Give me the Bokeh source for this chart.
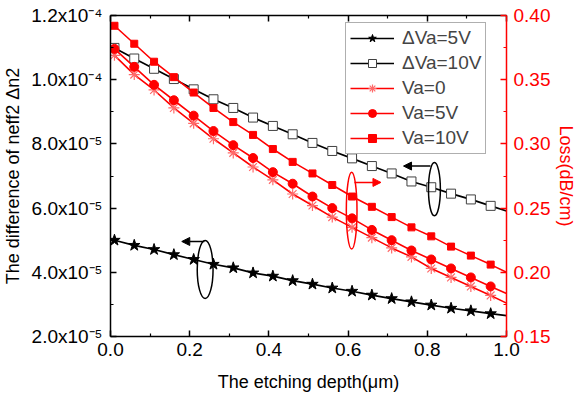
from bokeh.plotting import figure
from bokeh.models import (LinearAxis, Range1d, FixedTicker, CustomJSTickFormatter,
                          Legend, LegendItem, Arrow, NormalHead)
from bokeh.embed import file_html
from bokeh.resources import INLINE

# ---------------- data ----------------
depth = [0.01, 0.06, 0.11, 0.16, 0.21, 0.26, 0.31, 0.36, 0.41, 0.46, 0.51,
         0.56, 0.61, 0.66, 0.71, 0.76, 0.81, 0.86, 0.91, 0.96, 1.00]
dva5 = [5.00e-5, 4.84e-5, 4.71e-5, 4.55e-5, 4.40e-5, 4.25e-5, 4.14e-5, 3.98e-5,
        3.88e-5, 3.74e-5, 3.63e-5, 3.51e-5, 3.41e-5, 3.29e-5, 3.18e-5, 3.08e-5,
        2.98e-5, 2.88e-5, 2.80e-5, 2.71e-5, 2.65e-5]
dva10 = [1.099e-4, 1.066e-4, 1.034e-4, 1.002e-4, 9.70e-5, 9.39e-5, 9.12e-5, 8.82e-5,
         8.56e-5, 8.30e-5, 8.03e-5, 7.78e-5, 7.55e-5, 7.31e-5, 7.08e-5, 6.83e-5,
         6.65e-5, 6.45e-5, 6.27e-5, 6.07e-5, 5.91e-5]
loss_va0 = [0.369, 0.354, 0.342, 0.328, 0.316, 0.304, 0.293, 0.282, 0.272, 0.261, 0.252,
            0.243, 0.235, 0.227, 0.219, 0.212, 0.203, 0.196, 0.189, 0.182, 0.176]
loss_va5 = [0.374, 0.360, 0.346, 0.334, 0.322, 0.310, 0.299, 0.289, 0.278, 0.269, 0.259,
            0.250, 0.242, 0.233, 0.225, 0.217, 0.210, 0.203, 0.196, 0.189, 0.1835]
loss_va10 = [0.392, 0.378, 0.364, 0.352, 0.340, 0.328, 0.317, 0.307, 0.296, 0.286, 0.277,
             0.268, 0.259, 0.251, 0.243, 0.235, 0.228, 0.220, 0.213, 0.206, 0.200]
n_markers = 20  # markers drawn on the first 20 samples

series_labels = ["\u0394Va=5V", "\u0394Va=10V", "Va=0", "Va=5V", "Va=10V"]

x_ticks = [0.0, 0.2, 0.4, 0.6, 0.8, 1.0]
x_minor = [0.1, 0.3, 0.5, 0.7, 0.9]
left_ticks = [2e-5, 4e-5, 6e-5, 8e-5, 1e-4, 1.2e-4]
left_tick_labels = ["2.0x10\u207b\u2075", "4.0x10\u207b\u2075", "6.0x10\u207b\u2075",
                    "8.0x10\u207b\u2075", "1.0x10\u207b\u2074", "1.2x10\u207b\u2074"]
left_minor = [3e-5, 5e-5, 7e-5, 9e-5, 1.1e-4]
right_ticks = [0.15, 0.20, 0.25, 0.30, 0.35, 0.40]
right_minor = [0.175, 0.225, 0.275, 0.325, 0.375]

# annotation shapes (x, y centre, width, height)
ell_black = dict(x=[0.239, 0.818], y=[4.09e-5, 6.59e-5], w=[0.040, 0.030], h=[1.81e-5, 1.66e-5])
ell_red = dict(x=[0.609], y=[0.248], w=[0.027], h=[0.0597])

FONT = "Liberation Sans"
FS = "19px"
RED = "#ff0000"

p = figure(frame_width=396, frame_height=321,
           x_range=Range1d(0, 1), y_range=Range1d(2e-5, 1.2e-4),
           output_backend="svg", toolbar_location=None,
           min_border_left=103, min_border_right=60, min_border_top=15, min_border_bottom=50,
           background_fill_color="white", border_fill_color="white")
p.extra_y_ranges = {"loss": Range1d(0.15, 0.40)}
p.xgrid.visible = False
p.ygrid.visible = False
p.outline_line_color = None


def style_axis(ax, color="black"):
    ax.axis_line_color = color
    ax.axis_line_width = 1.5
    ax.major_tick_line_color = color
    ax.minor_tick_line_color = color
    ax.major_tick_line_width = 1.5
    ax.minor_tick_line_width = 1.2
    ax.major_tick_in = 6
    ax.major_tick_out = 0
    ax.minor_tick_in = 3
    ax.minor_tick_out = 0
    ax.major_label_text_font = FONT
    ax.major_label_text_font_size = FS
    ax.major_label_text_color = color
    ax.axis_label_text_font = FONT
    ax.axis_label_text_font_size = "18px"
    ax.axis_label_text_font_style = "normal"
    ax.axis_label_text_color = color


# bottom axis
xa = p.xaxis[0]
xa.ticker = FixedTicker(ticks=x_ticks, minor_ticks=x_minor)
xa.formatter = CustomJSTickFormatter(code="return tick.toFixed(1);")
xa.axis_label = "The etching depth(\u03bcm)"
style_axis(xa)
xa.major_label_standoff = 6
xa.axis_label_standoff = 13

# left axis
ya = p.yaxis[0]
ya.ticker = FixedTicker(ticks=left_ticks, minor_ticks=left_minor)
ya.formatter = CustomJSTickFormatter(
    args=dict(tvals=left_ticks, tlabels=left_tick_labels),
    code="for (let i = 0; i < tvals.length; i++) { if (Math.abs(tvals[i] - tick) < 1e-12) return tlabels[i]; } return '';")
ya.axis_label = "The difference of neff2 \u0394n2"
style_axis(ya)
ya.major_label_standoff = 8
ya.axis_label_standoff = 5

# top axis (ticks only)
top = LinearAxis(ticker=FixedTicker(ticks=x_ticks, minor_ticks=x_minor),
                 formatter=CustomJSTickFormatter(code="return '';"))
style_axis(top)
top.major_label_standoff = 0
p.add_layout(top, "above")

# right axis (loss)
ra = LinearAxis(y_range_name="loss", ticker=FixedTicker(ticks=right_ticks, minor_ticks=right_minor),
                formatter=CustomJSTickFormatter(code="return tick.toFixed(2);"),
                axis_label="Loss(dB/cm)")
style_axis(ra, RED)
ra.major_label_standoff = 7
ra.axis_label_standoff = 3
p.add_layout(ra, "right")

xm = depth[:n_markers]

# black series (left axis)
l1 = p.line(depth, dva5, line_color="black", line_width=1.7)
s1 = p.scatter(xm, dva5[:n_markers], marker="star", size=12, fill_color="black", line_color="black")
l2 = p.line(depth, dva10, line_color="black", line_width=1.7)
s2 = p.scatter(xm, dva10[:n_markers], marker="square", size=9, fill_color="white", line_color="#404040", line_width=1)

# red series (right axis)
l3 = p.line(depth, loss_va0, line_color=RED, line_width=1.6, y_range_name="loss")
s3 = p.scatter(xm, loss_va0[:n_markers], marker="asterisk", size=11, line_color="#ff6a6a", line_width=1.2, y_range_name="loss")
l4 = p.line(depth, loss_va5, line_color=RED, line_width=1.6, y_range_name="loss")
s4 = p.scatter(xm, loss_va5[:n_markers], marker="circle", size=9, fill_color=RED, line_color=RED, y_range_name="loss")
l5 = p.line(depth, loss_va10, line_color=RED, line_width=1.6, y_range_name="loss")
s5 = p.scatter(xm, loss_va10[:n_markers], marker="square", size=7, fill_color=RED, line_color=RED, y_range_name="loss")

# ellipses and arrows
p.ellipse(x=ell_black["x"], y=ell_black["y"], width=ell_black["w"], height=ell_black["h"],
          fill_color=None, line_color="black", line_width=1.5)
p.ellipse(x=ell_red["x"], y=ell_red["y"], width=ell_red["w"], height=ell_red["h"],
          fill_color=None, line_color=RED, line_width=1.5, y_range_name="loss")

p.add_layout(Arrow(end=NormalHead(size=8, fill_color="black", line_color="black"),
                   x_start=0.237, y_start=4.96e-5, x_end=0.180, y_end=4.96e-5,
                   line_color="black", line_width=1.5))
p.add_layout(Arrow(end=NormalHead(size=8, fill_color="black", line_color="black"),
                   x_start=0.808, y_start=7.31e-5, x_end=0.740, y_end=7.31e-5,
                   line_color="black", line_width=1.5))
p.add_layout(Arrow(end=NormalHead(size=8, fill_color=RED, line_color=RED),
                   x_start=0.616, y_start=0.270, x_end=0.683, y_end=0.270,
                   line_color=RED, line_width=1.5, y_range_name="loss"))

legend = Legend(items=[
    LegendItem(label=series_labels[0], renderers=[l1, s1]),
    LegendItem(label=series_labels[1], renderers=[l2, s2]),
    LegendItem(label=series_labels[2], renderers=[l3, s3]),
    LegendItem(label=series_labels[3], renderers=[l4, s4]),
    LegendItem(label=series_labels[4], renderers=[l5, s5]),
], location=(235, 182))
legend.label_text_font = FONT
legend.label_text_font_size = FS
legend.glyph_width = 44
legend.glyph_height = 20
legend.label_height = 20
legend.spacing = 3
legend.padding = 4
legend.margin = 0
legend.label_standoff = 8
legend.border_line_color = "#606060"
legend.border_line_width = 1
legend.background_fill_color = "white"
legend.background_fill_alpha = 1
p.add_layout(legend)

open("out.html", "w").write(file_html(p, INLINE))
